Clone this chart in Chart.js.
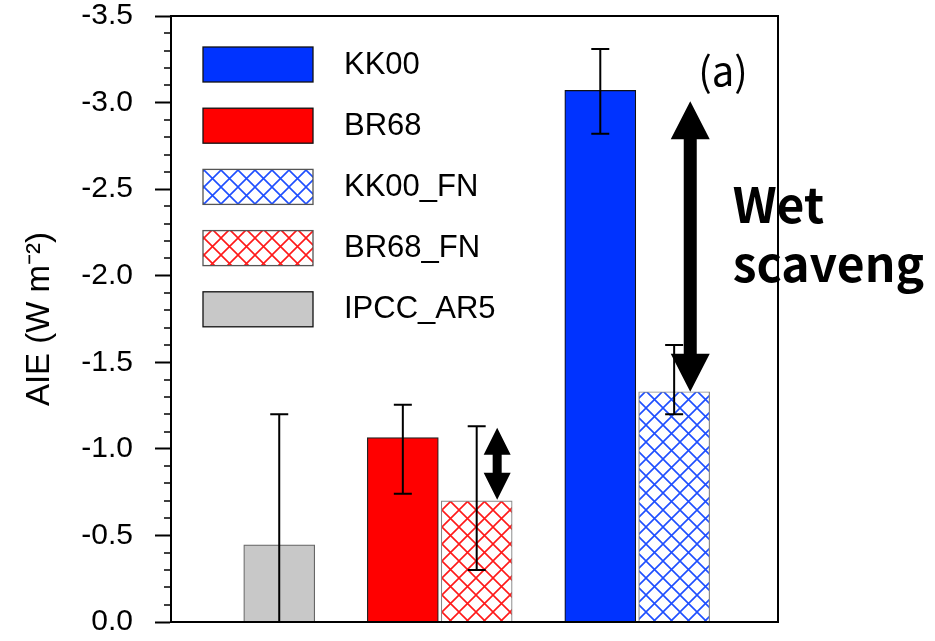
<!DOCTYPE html>
<html>
<head>
<meta charset="utf-8">
<script src="https://cdn.jsdelivr.net/npm/chart.js@4.4.1/dist/chart.umd.min.js"></script>
<style>
  html, body { margin: 0; padding: 0; background: #fff; }
</style>
</head>
<body>
<canvas id="aieChart" width="935" height="641"></canvas>
<script>
// legend order
const labels = ['KK00', 'BR68', 'KK00_FN', 'BR68_FN', 'IPCC_AR5'];
// AIE values (W m-2)
const aie = [-3.07, -1.065, -1.33, -0.70, -0.445];
// error bar ends
const errTop = [-3.31, -1.255, -1.60, -1.13, -1.20];
const errBottom = [-2.82, -0.74, -1.20, -0.30, 0.30];
// where each bar sits along the (hidden) x axis
const slots = [5.87, 3.17, 6.88, 4.18, 1.48];
// double arrows: x slot, from, to
const arrowSlot = [4.46, 7.10];
const arrowFrom = [-1.122, -3.007];
const arrowTo = [-0.706, -1.33];

const FONT = "'Liberation Sans', Arial, sans-serif";
const JP = "'Noto Sans CJK JP', 'Noto Sans', sans-serif";

function hatch(color) {
  const c = document.createElement('canvas');
  c.width = 17; c.height = 17;
  const g = c.getContext('2d');
  g.fillStyle = '#fff';
  g.fillRect(0, 0, 17, 17);
  g.strokeStyle = color;
  g.lineWidth = 1.6;
  g.beginPath();
  g.moveTo(0, 0); g.lineTo(17, 17);
  g.moveTo(17, 0); g.lineTo(0, 17);
  g.stroke();
  return g.createPattern(c, 'repeat');
}

const fills = ['#0033ff', '#ff0000', hatch('#1f4fff'), hatch('#ff1a1a'), '#c8c8c8'];
const borders = ['#111', '#222', '#888', '#888', '#666'];

const datasets = labels.map((name, i) => ({
  label: name,
  data: [{ x: slots[i], y: aie[i] }],
  backgroundColor: fills[i],
  borderColor: borders[i],
  borderWidth: 1.2,
  barThickness: 71,
  grouped: false
}));

const ctx = document.getElementById('aieChart').getContext('2d');

const extras = {
  id: 'extras',
  afterDatasetsDraw(chart) {
    const { ctx, chartArea: ca, scales: { x, y } } = chart;
    ctx.save();
    ctx.beginPath();
    ctx.rect(ca.left, ca.top, ca.right - ca.left, ca.bottom - ca.top);
    ctx.clip();
    // error bars
    ctx.strokeStyle = '#000';
    ctx.lineWidth = 2;
    slots.forEach((s, i) => {
      const px = x.getPixelForValue(s);
      const y1 = y.getPixelForValue(errTop[i]);
      const y2 = y.getPixelForValue(errBottom[i]);
      ctx.beginPath();
      ctx.moveTo(px, y1); ctx.lineTo(px, y2);
      [y1, y2].forEach(py => {
        if (py > ca.top && py < ca.bottom) {
          ctx.moveTo(px - 9, py); ctx.lineTo(px + 9, py);
        }
      });
      ctx.stroke();
    });
    // double arrows
    ctx.fillStyle = '#000';
    arrowSlot.forEach((s, i) => {
      const px = x.getPixelForValue(s);
      const top = y.getPixelForValue(arrowFrom[i]);
      const bot = y.getPixelForValue(arrowTo[i]);
      const big = (bot - top) > 150;
      const hw = big ? 19.5 : 13.5, hl = big ? 38 : 27, sw = big ? 6.5 : 4.5;
      ctx.beginPath();
      ctx.moveTo(px, top);
      ctx.lineTo(px + hw, top + hl);
      ctx.lineTo(px + sw, top + hl);
      ctx.lineTo(px + sw, bot - hl);
      ctx.lineTo(px + hw, bot - hl);
      ctx.lineTo(px, bot);
      ctx.lineTo(px - hw, bot - hl);
      ctx.lineTo(px - sw, bot - hl);
      ctx.lineTo(px - sw, top + hl);
      ctx.lineTo(px - hw, top + hl);
      ctx.closePath();
      ctx.fill();
    });
    ctx.restore();
  },
  afterDraw(chart) {
    const { ctx, chartArea: ca, scales: { x, y } } = chart;
    ctx.save();
    // legend
    chart.data.datasets.forEach((ds, i) => {
      const bx = ca.left + 32, by = ca.top + 31 + i * 61.2;
      ctx.fillStyle = ds.backgroundColor;
      ctx.fillRect(bx, by, 110, 35);
      ctx.strokeStyle = i === 2 || i === 3 ? '#555' : '#111';
      ctx.lineWidth = 1.3;
      ctx.strokeRect(bx, by, 110, 35);
      ctx.fillStyle = '#000';
      ctx.font = '31px ' + FONT;
      ctx.textBaseline = 'middle';
      ctx.textAlign = 'left';
      ctx.fillText(ds.label, ca.left + 173, by + 18);
    });
    // annotations
    ctx.textBaseline = 'alphabetic';
    ctx.font = '40px ' + JP;
    ctx.fillText('(a)', x.getPixelForValue(7.21), y.getPixelForValue(-3.096));
    ctx.font = 'bold 48px ' + JP;
    ctx.fillText('Wet', x.getPixelForValue(7.68), y.getPixelForValue(-2.304));
    ctx.fillText('scaveng', x.getPixelForValue(7.68), y.getPixelForValue(-1.964));
    // minor ticks
    ctx.strokeStyle = '#000';
    ctx.lineWidth = 1.5;
    ctx.beginPath();
    for (let k = 1; k < 35; k++) {
      if (k % 5 === 0) continue;
      const py = Math.round(y.getPixelForValue(-k / 10));
      ctx.moveTo(ca.left - 7, py); ctx.lineTo(ca.left, py);
    }
    ctx.stroke();
    // frame: top, right, bottom
    ctx.lineWidth = 2;
    ctx.beginPath();
    ctx.moveTo(ca.left, ca.top); ctx.lineTo(ca.right, ca.top);
    ctx.lineTo(ca.right, ca.bottom); ctx.lineTo(ca.left, ca.bottom);
    ctx.stroke();
    ctx.restore();
  }
};

new Chart(ctx, {
  type: 'bar',
  data: { datasets: datasets },
  options: {
    responsive: false,
    animation: false,
    devicePixelRatio: 1,
    layout: { padding: { left: 0, right: 157, top: 16, bottom: 19 } },
    plugins: {
      legend: { display: false },
      tooltip: { enabled: false }
    },
    scales: {
      x: {
        type: 'linear',
        min: 0,
        max: 8.3,
        offset: false,
        display: false
      },
      y: {
        type: 'linear',
        min: -3.5,
        max: 0,
        reverse: true,
        ticks: {
          stepSize: 0.5,
          color: '#000',
          padding: 22,
          font: { family: FONT, size: 30 },
          callback: v => v.toFixed(1)
        },
        grid: {
          drawOnChartArea: false,
          tickLength: 16,
          tickWidth: 2,
          tickColor: '#000'
        },
        border: { display: true, color: '#000', width: 2 },
        title: {
          display: true,
          text: 'AIE (W m⁻²)',
          color: '#000',
          font: { family: FONT, size: 33 },
          padding: { top: 20, bottom: 0 }
        },
        afterFit: s => { s.width = 171; s.paddingTop = 0; s.paddingBottom = 0; }
      }
    }
  },
  plugins: [extras]
});
</script>
</body>
</html>
